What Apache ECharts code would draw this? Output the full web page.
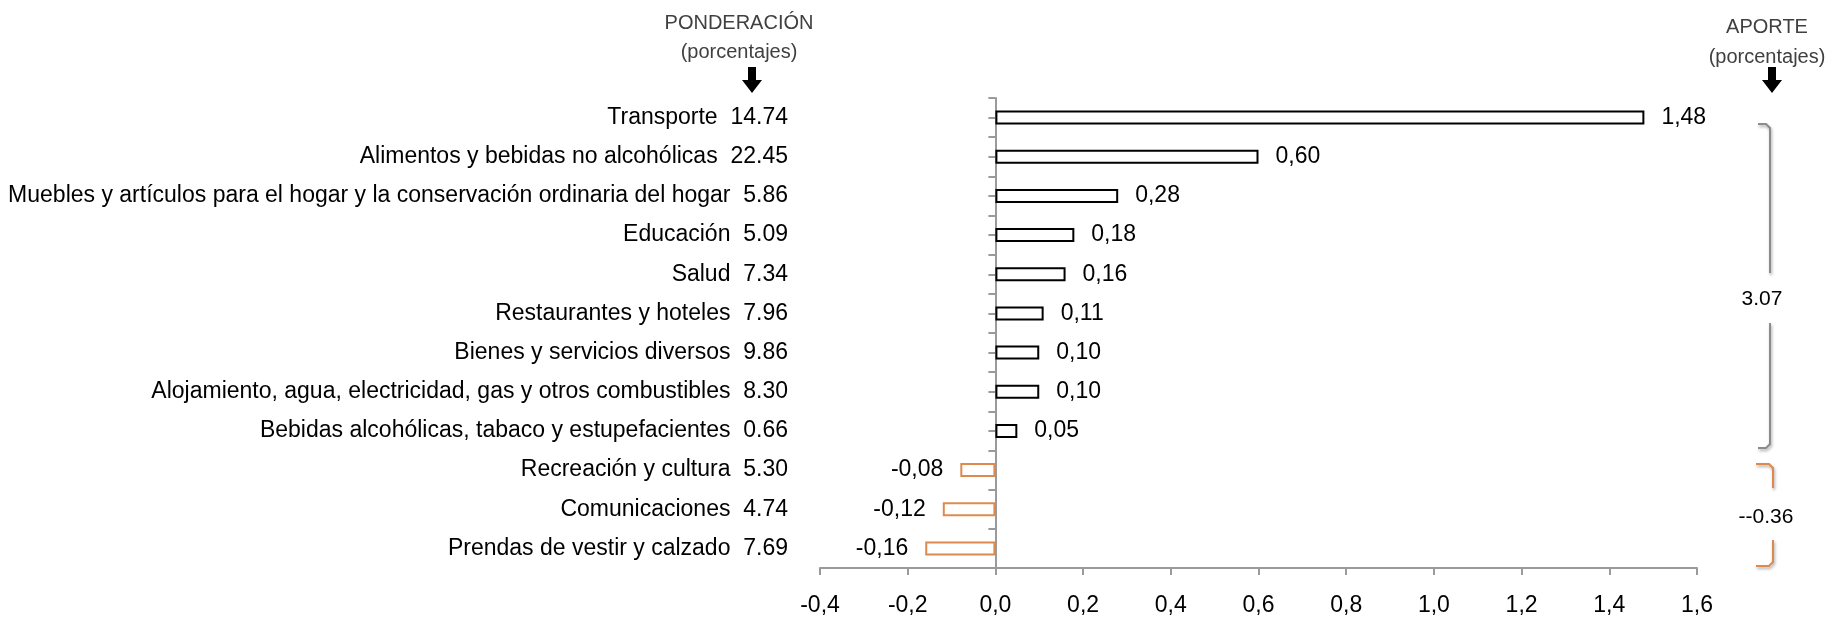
<!DOCTYPE html>
<html>
<head>
<meta charset="utf-8">
<script src="https://cdn.jsdelivr.net/npm/echarts@6/dist/echarts.min.js"></script>
<style>
  html, body { margin: 0; padding: 0; background: #fff; }
  #chart { width: 1827px; height: 617px; }
</style>
</head>
<body>
<div id="chart"></div>
<script>
// categorías (de arriba hacia abajo)
const categories = [
  "Transporte",
  "Alimentos y bebidas no alcohólicas",
  "Muebles y artículos para el hogar y la conservación ordinaria del hogar",
  "Educación",
  "Salud",
  "Restaurantes y hoteles",
  "Bienes y servicios diversos",
  "Alojamiento, agua, electricidad, gas y otros combustibles",
  "Bebidas alcohólicas, tabaco y estupefacientes",
  "Recreación y cultura",
  "Comunicaciones",
  "Prendas de vestir y calzado"
];
// ponderación (porcentajes)
const weights = ["14.74", "22.45", "5.86", "5.09", "7.34", "7.96", "9.86", "8.30", "0.66", "5.30", "4.74", "7.69"];
// aporte (porcentajes)
const aporte = [1.48, 0.60, 0.28, 0.18, 0.16, 0.11, 0.10, 0.10, 0.05, -0.08, -0.12, -0.16];
const xTicks = { min: -0.4, max: 1.6, interval: 0.2 };
const totalPos = "3.07";
const totalNeg = "--0.36";

const FONT = "'Liberation Sans Narrow', 'Liberation Sans', Arial, sans-serif";
const ORANGE = "#DE8A4E";
const AXIS_GRAY = "#9a9a9a";

const fmt = v => v.toFixed(2).replace(".", ",");

let myChart = echarts.init(document.getElementById("chart"));

// ticks a media categoría sobre el eje
const tickSlots = categories.flatMap(() => ["", ""]);

function arrow(cx) {
  return {
    type: "polygon",
    shape: {
      points: [[cx - 4, 67], [cx + 4, 67], [cx + 4, 80], [cx + 10, 80], [cx, 93], [cx - 10, 80], [cx - 4, 80]]
    },
    style: { fill: "#000" }
  };
}

function bracketLine(points, color) {
  return {
    type: "polyline",
    shape: { points: points, smooth: 0 },
    style: {
      stroke: color,
      lineWidth: 2,
      fill: null,
      shadowBlur: 3,
      shadowColor: "rgba(0,0,0,0.35)",
      shadowOffsetX: 1,
      shadowOffsetY: 2
    }
  };
}

function headText(text, x, y) {
  return {
    type: "text",
    x: x, y: y,
    style: { text: text, fill: "#404040", font: "20px " + FONT, textAlign: "center", textVerticalAlign: "middle" }
  };
}

myChart.setOption({
  animation: false,
  textStyle: { fontFamily: FONT },
  grid: { left: 820, right: 130, top: 98, bottom: 49 },
  xAxis: {
    type: "value",
    min: xTicks.min,
    max: xTicks.max,
    interval: xTicks.interval,
    splitLine: { show: false },
    axisLine: { show: true, onZero: false, lineStyle: { color: AXIS_GRAY, width: 2 } },
    axisTick: { show: true, length: 7, lineStyle: { color: AXIS_GRAY, width: 2 } },
    axisLabel: {
      color: "#000",
      fontSize: 23,
      fontFamily: FONT,
      margin: 26,
      formatter: v => v.toFixed(1).replace(".", ",")
    }
  },
  yAxis: [
    {
      type: "category",
      inverse: true,
      data: categories,
      axisLine: { show: false, onZero: false },
      axisTick: { show: false },
      axisLabel: {
        color: "#000",
        fontSize: 23,
        fontFamily: FONT,
        margin: 32,
        interval: 0,
        formatter: (v, i) => v + "  " + weights[i]
      }
    },
    {
      type: "category",
      data: tickSlots,
      axisLine: { show: true, onZero: true, lineStyle: { color: AXIS_GRAY, width: 2 } },
      axisTick: { show: true, inside: true, length: 7, interval: 0, lineStyle: { color: AXIS_GRAY, width: 2 } },
      axisLabel: { show: false, interval: 0 }
    }
  ],
  series: [
    {
      type: "bar",
      yAxisIndex: 0,
      barWidth: 14,
      data: aporte.map(v => ({
        value: v,
        itemStyle: {
          color: "#fff",
          borderColor: v < 0 ? ORANGE : "#000",
          borderWidth: 2
        },
        label: { position: v < 0 ? "left" : "right" }
      })),
      label: {
        show: true,
        distance: 17,
        color: "#000",
        fontSize: 23,
        fontFamily: FONT,
        formatter: p => fmt(p.value)
      }
    }
  ],
  graphic: [
    headText("PONDERACIÓN", 739, 23),
    headText("(porcentajes)", 739, 52),
    arrow(752),
    headText("APORTE", 1767, 27),
    headText("(porcentajes)", 1767, 57),
    arrow(1772),
    bracketLine([[1758, 124], [1766, 124], [1770, 128], [1770, 273]], "#8c8c8c"),
    bracketLine([[1770, 323], [1770, 444], [1766, 448], [1758, 448]], "#8c8c8c"),
    {
      type: "text",
      x: 1762, y: 299,
      style: { text: totalPos, fill: "#000", font: "21px " + FONT, textAlign: "center", textVerticalAlign: "middle" }
    },
    bracketLine([[1756, 464], [1769, 464], [1773, 468], [1773, 488]], ORANGE),
    bracketLine([[1773, 540], [1773, 562], [1769, 566], [1756, 566]], ORANGE),
    {
      type: "text",
      x: 1766, y: 517,
      style: { text: totalNeg, fill: "#000", font: "21px " + FONT, textAlign: "center", textVerticalAlign: "middle" }
    }
  ]
});
</script>
</body>
</html>
